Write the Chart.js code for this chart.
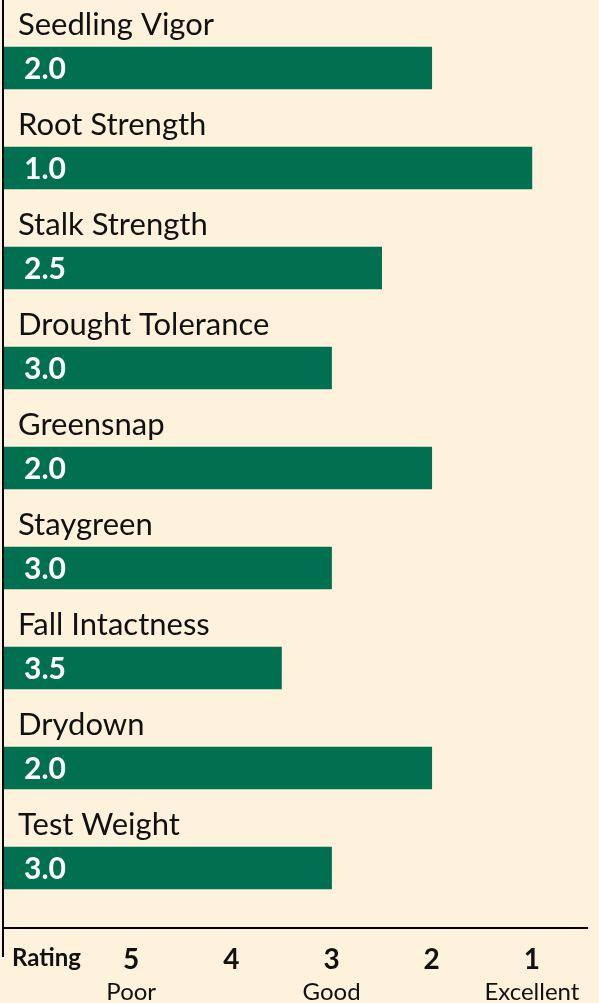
<!DOCTYPE html>
<html>
<head>
<meta charset="utf-8">
<script src="https://cdn.jsdelivr.net/npm/chart.js@4"></script>
<style>
  html, body { margin: 0; padding: 0; background: #fef2dc; }
  #wrap { width: 599px; height: 1003px; }
</style>
</head>
<body>
<div id="wrap"><canvas id="myChart"></canvas></div>
<script>
const categories = ['Seedling Vigor', 'Root Strength', 'Stalk Strength', 'Drought Tolerance',
    'Greensnap', 'Staygreen', 'Fall Intactness', 'Drydown', 'Test Weight'];
const ratings = [2.0, 1.0, 2.5, 3.0, 2.0, 3.0, 3.5, 2.0, 3.0];
const tickValues = [5, 4, 3, 2, 1];
const tickWords = { 5: 'Poor', 3: 'Good', 1: 'Excellent' };

const green = '#007050';
const ink = '#111111';
const fontFam = 'Lato, "Open Sans", sans-serif';

// left end of the reversed rating axis, bars grow from here
const xMax = 6.27;
const xMin = 0.45;

// category names above bars, rating inside bars, "Rating" word, axis stub
const labelPlugin = {
    id: 'labelPlugin',
    afterDatasetsDraw: function (chart) {
        const ctx = chart.ctx;
        const area = chart.chartArea;
        const meta = chart.getDatasetMeta(0);
        ctx.save();
        meta.data.forEach(function (bar, i) {
            const top = bar.y - bar.height / 2;
            ctx.fillStyle = ink;
            ctx.font = '31px ' + fontFam;
            ctx.textBaseline = 'middle';
            ctx.textAlign = 'left';
            ctx.fillText(categories[i], area.left + 14, top - 22);

            ctx.fillStyle = '#ffffff';
            ctx.font = 'bold 30px ' + fontFam;
            ctx.fillText(ratings[i].toFixed(1), area.left + 20, bar.y + 1);
        });

        // y axis line running down past the rating axis
        ctx.strokeStyle = '#000000';
        ctx.lineWidth = 2;
        ctx.beginPath();
        ctx.moveTo(area.left - 1, 0);
        ctx.lineTo(area.left - 1, area.bottom + 29);
        ctx.stroke();

        ctx.fillStyle = ink;
        ctx.font = 'bold 24px ' + fontFam;
        ctx.textAlign = 'left';
        ctx.textBaseline = 'middle';
        ctx.fillText('Rating', area.left + 8, area.bottom + 30);
        ctx.restore();
    }
};

const ctx = document.getElementById('myChart').getContext('2d');
const myChart = new Chart(ctx, {
    type: 'bar',
    data: {
        datasets: [{
            data: ratings.map(function (v, i) { return { x: v, y: i }; }),
            backgroundColor: green,
            borderWidth: 0,
            barThickness: 42,
            base: xMax,
        }],
    },
    options: {
        indexAxis: 'y',
        responsive: true,
        maintainAspectRatio: false,
        animation: false,
        layout: {
            padding: { left: 4, right: 12, top: 0, bottom: 0 }
        },
        plugins: {
            legend: { display: false },
            tooltip: { enabled: false },
        },
        scales: {
            y: {
                type: 'linear',
                display: false,
                offset: false,
                reverse: true,
                min: -0.68,
                max: 8.6,
            },
            x: {
                type: 'linear',
                position: 'bottom',
                reverse: true,
                min: xMin,
                max: xMax,
                afterBuildTicks: function (axis) {
                    axis.ticks = tickValues.map(function (v) { return { value: v }; });
                },
                afterFit: function (axis) { axis.height = 44; },
                grid: { display: false },
                border: { display: true, color: '#000000', width: 2 },
                ticks: {
                    color: ink,
                    padding: 10,
                    maxRotation: 0,
                    autoSkip: false,
                    font: { family: fontFam, size: 28, weight: 'bold', lineHeight: 1 },
                },
            },
            x2: {
                type: 'linear',
                position: 'bottom',
                reverse: true,
                min: xMin,
                max: xMax,
                afterBuildTicks: function (axis) {
                    axis.ticks = tickValues.map(function (v) { return { value: v }; });
                },
                afterFit: function (axis) { axis.height = 31; },
                grid: { display: false },
                border: { display: false },
                ticks: {
                    color: ink,
                    padding: 0,
                    maxRotation: 0,
                    autoSkip: false,
                    font: { family: fontFam, size: 24, lineHeight: 1 },
                    callback: function (value) {
                        return tickWords[value] || '';
                    },
                },
            },
        },
    },
    plugins: [labelPlugin],
});
</script>
</body>
</html>
